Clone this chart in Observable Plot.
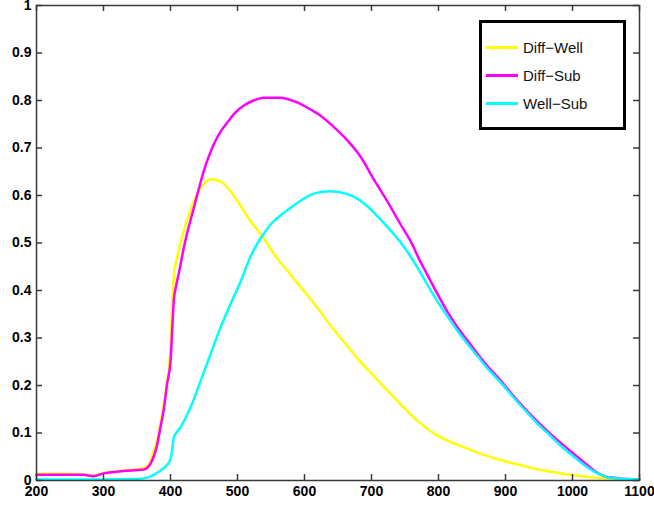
<!DOCTYPE html>
<html>
<head>
<meta charset="utf-8">
<script src="https://cdn.jsdelivr.net/npm/d3@7"></script>
<script src="https://cdn.jsdelivr.net/npm/@observablehq/plot@0.6"></script>
<style>
  body { margin: 0; background: #fff; }
  #wrap { position: relative; width: 654px; height: 508px; overflow: hidden; }
  #legend {
    position: absolute; left: 479px; top: 20px; width: 141px; height: 104px;
    border: 3px solid #000; background: #fff; font-family: "Liberation Sans", Arial, sans-serif;
    font-size: 15px; color: #111;
  }
  .row { position: absolute; left: 4px; height: 20px; display: flex; align-items: center; }
  .sw { width: 32px; height: 3px; margin-right: 5px; }
</style>
</head>
<body>
<div id="wrap"></div>
<script>
const seriesNames = ["Diff−Well", "Diff−Sub", "Well−Sub"];
const seriesColors = ["#ffff00", "#ff00ff", "#00ffff"];

const diffWellX = [200,240,270,285,300,330,360,370,375,380,390,397,400,403,405,410,420,430,440,450,460,470,480,490,500,519,539,559,574,589,605,620,641,660,680,700,720,743,768,798,820,843,870,893,920,942,970,992,1020,1042,1070,1100];
const diffWellY = [0.014,0.014,0.013,0.010,0.016,0.021,0.026,0.040,0.063,0.085,0.161,0.230,0.280,0.390,0.430,0.470,0.526,0.570,0.604,0.625,0.634,0.632,0.624,0.608,0.588,0.547,0.510,0.468,0.442,0.416,0.389,0.362,0.322,0.290,0.255,0.225,0.195,0.161,0.126,0.095,0.080,0.067,0.053,0.043,0.033,0.025,0.018,0.013,0.008,0.005,0.003,0.002];

const diffSubX = [200,270,285,300,330,360,370,380,385,390,395,400,403,405,408,413,420,435,450,465,475,485,497,509,524,539,564,589,609,625,644,664,684,703,723,743,763,768,783,798,813,828,843,858,875,893,910,927,947,967,985,1002,1020,1037,1050,1067,1100];
const diffSubY = [0.012,0.012,0.009,0.015,0.020,0.023,0.035,0.075,0.112,0.150,0.204,0.250,0.330,0.380,0.407,0.440,0.491,0.575,0.653,0.709,0.735,0.754,0.775,0.789,0.800,0.806,0.806,0.796,0.781,0.767,0.744,0.716,0.681,0.635,0.589,0.540,0.491,0.475,0.434,0.394,0.356,0.323,0.295,0.267,0.238,0.210,0.181,0.154,0.125,0.098,0.076,0.056,0.035,0.016,0.008,0.005,0.002];

const wellSubX = [200,300,350,365,375,385,395,400,403,405,415,430,445,460,475,492,505,519,530,539,550,564,580,594,614,639,659,674,690,705,723,743,758,770,783,798,813,828,843,858,875,893,910,927,947,967,985,1002,1020,1037,1050,1067,1100];
const wellSubY = [0.002,0.002,0.003,0.006,0.012,0.021,0.033,0.045,0.070,0.091,0.112,0.154,0.210,0.267,0.323,0.379,0.420,0.470,0.500,0.519,0.540,0.558,0.575,0.589,0.604,0.609,0.605,0.597,0.582,0.562,0.535,0.502,0.472,0.445,0.413,0.378,0.346,0.316,0.288,0.262,0.233,0.206,0.178,0.151,0.121,0.094,0.070,0.050,0.030,0.015,0.008,0.004,0.002];

const xTicks = [200,300,400,500,600,700,800,900,1000,1100];
const yTicks = [0,0.1,0.2,0.3,0.4,0.5,0.6,0.7,0.8,0.9,1];

const seriesX = [diffWellX, diffSubX, wellSubX];
const seriesY = [diffWellY, diffSubY, wellSubY];
const rows = [];
seriesNames.forEach((name, i) => {
  seriesX[i].forEach((x, j) => rows.push({series: name, x, y: seriesY[i][j]}));
});

const W = 654, H = 508, mL = 36, mR = 15, mT = 5, mB = 28;
const plotW = W - mL - mR, plotH = H - mT - mB, tick = 6;
const axisColor = "#3a3a3a";
const chart = Plot.plot({
  width: W, height: H,
  marginLeft: mL, marginRight: mR, marginTop: mT, marginBottom: mB,
  style: {fontFamily: "'Liberation Sans', Arial, sans-serif", fontSize: "14px", fontWeight: "bold", color: "#000", background: "#fff", overflow: "visible"},
  x: {domain: [200, 1100]},
  y: {domain: [0, 1]},
  color: {domain: seriesNames, range: seriesColors},
  marks: [
    Plot.line(rows, {x: "x", y: "y", z: "series", stroke: "series", strokeWidth: 2.5, curve: "monotone-x"}),
    Plot.frame({stroke: axisColor, strokeWidth: 1.5}),
    Plot.tickX(xTicks, {x: d => d, insetTop: plotH - tick, stroke: axisColor, strokeWidth: 1.5}),
    Plot.tickX(xTicks, {x: d => d, insetBottom: plotH - tick, stroke: axisColor, strokeWidth: 1.5}),
    Plot.tickY(yTicks, {y: d => d, insetRight: plotW - tick, stroke: axisColor, strokeWidth: 1.5}),
    Plot.tickY(yTicks, {y: d => d, insetLeft: plotW - tick, stroke: axisColor, strokeWidth: 1.5}),
    Plot.axisX(xTicks, {anchor: "bottom", tickSize: 0, tickPadding: 6, label: null, fill: "#000", tickFormat: d => String(d)}),
    Plot.axisY(yTicks, {anchor: "left", tickSize: 0, tickPadding: 5, label: null, fill: "#000", tickFormat: d => String(d)})
  ]
});
const wrap = document.getElementById("wrap");
wrap.appendChild(chart);

const legend = document.createElement("div");
legend.id = "legend";
seriesNames.forEach((name, i) => {
  const r = document.createElement("div");
  r.className = "row";
  r.style.top = (14 + i * 28) + "px";
  const sw = document.createElement("div");
  sw.className = "sw";
  sw.style.background = seriesColors[i];
  const t = document.createElement("span");
  t.textContent = name;
  r.appendChild(sw); r.appendChild(t);
  legend.appendChild(r);
});
wrap.appendChild(legend);
</script>
</body>
</html>
